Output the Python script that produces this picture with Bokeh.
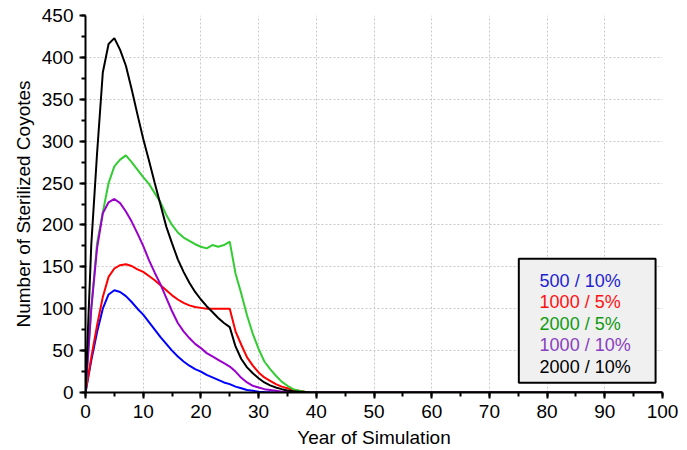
from bokeh.plotting import figure
from bokeh.models import Range1d, SingleIntervalTicker, BoxAnnotation, Label
from bokeh.embed import file_html
from bokeh.resources import INLINE

years = list(range(0, 41)) + [100]

s500_10 = [0, 38, 72, 100, 117, 122, 120, 115, 108, 100, 93, 84, 75, 66, 58, 50, 43, 37, 32, 28,
           25, 21, 18, 15, 12, 10, 7, 5, 3, 2, 1, 0.6, 0.3, 0.1, 0, 0, 0, 0, 0, 0, 0, 0]
s1000_5 = [0, 42, 80, 114, 138, 148, 152, 153, 151, 147, 144, 139, 134, 128, 122, 116, 111, 107, 104, 102,
           101, 100, 100, 100, 100, 100, 73, 57, 42, 32, 24, 18, 14, 10, 7, 5, 3, 2, 1, 0.5, 0, 0]
s2000_5 = [0, 100, 178, 215, 250, 270, 278, 283, 275, 266, 257, 249, 238, 227, 212, 200, 191, 185, 181, 177,
           174, 172, 176, 174, 176, 180, 142, 118, 92, 70, 52, 37, 28, 20, 13, 8, 4, 2, 1, 0.5, 0, 0]
s1000_10 = [0, 100, 172, 214, 227, 231, 226, 216, 204, 190, 175, 158, 143, 129, 113, 97, 83, 73, 65, 58,
            53, 47, 43, 39, 35, 31, 25, 17.5, 12, 8, 6, 4, 3, 2, 1, 0.5, 0, 0, 0, 0, 0, 0]
s2000_10 = [0, 176, 285, 382, 416, 423, 409, 390, 362, 332, 303, 277, 250, 224, 198, 178, 159, 144, 131, 120,
            111, 103, 96, 89, 83, 78, 55, 40, 30, 23, 17, 12, 8.5, 6, 4, 2.5, 1.5, 1, 0.5, 0, 0, 0]

series_labels = ["500 / 10%", "1000 / 5%", "2000 / 5%", "1000 / 10%", "2000 / 10%"]
series_values = [s500_10, s1000_5, s2000_5, s1000_10, s2000_10]
line_colors = ["#0000ff", "#ff0000", "#33cc33", "#9900cc", "#000000"]
text_colors = ["#1f1fd0", "#ff1010", "#109a10", "#8a3ec0", "#000000"]

FONT = "Liberation Sans"

p = figure(width=687, height=450, output_backend="svg", toolbar_location=None,
           x_range=Range1d(0, 100), y_range=Range1d(0, 450),
           min_border_left=85, min_border_right=25, min_border_top=15, min_border_bottom=58)
p.outline_line_color = None
p.background_fill_color = "white"
p.border_fill_color = "white"

for vals, c in zip(series_values, line_colors):
    p.line(years, vals, line_color=c, line_width=2)

for ax, interval in ((p.xaxis[0], 10), (p.yaxis[0], 50)):
    ax.ticker = SingleIntervalTicker(interval=interval, num_minor_ticks=2)
    ax.axis_line_width = 2
    ax.axis_line_color = "black"
    ax.major_tick_line_width = 2
    ax.minor_tick_line_width = 2
    ax.major_tick_in = 0
    ax.major_tick_out = 6
    ax.minor_tick_in = 0
    ax.minor_tick_out = 4
    ax.major_label_text_font = FONT
    ax.major_label_text_font_size = "19px"
    ax.major_label_text_color = "black"
    ax.axis_label_text_font = FONT
    ax.axis_label_text_font_size = "19px"
    ax.axis_label_text_font_style = "normal"
    ax.axis_label_text_color = "black"

p.xaxis.axis_label = "Year of Simulation"
p.yaxis.axis_label = "Number of Sterilized Coyotes"
p.xaxis.major_label_standoff = 6
p.xaxis.axis_label_standoff = 6
p.yaxis.major_label_standoff = 6
p.yaxis.axis_label_standoff = 5

for g, interval in ((p.xgrid[0], 10), (p.ygrid[0], 50)):
    g.ticker = SingleIntervalTicker(interval=interval)
    g.grid_line_color = "#c8c8c8"
    g.grid_line_dash = "2 2"
    g.grid_line_width = 1

box = BoxAnnotation(left=75.1, right=98.8, bottom=11.6, top=159.7,
                    fill_color="#f0f0f0", fill_alpha=1.0, line_color="black", line_width=2,
                    line_alpha=1.0)
p.add_layout(box)

y0 = 133.4
step = 25.6
for i, (lab, c) in enumerate(zip(series_labels, text_colors)):
    p.add_layout(Label(x=78.7, y=y0 - i * step, text=lab, text_color=c,
                       text_font=FONT, text_font_size="18px", text_baseline="middle"))

open("out.html", "w").write(file_html(p, INLINE))
